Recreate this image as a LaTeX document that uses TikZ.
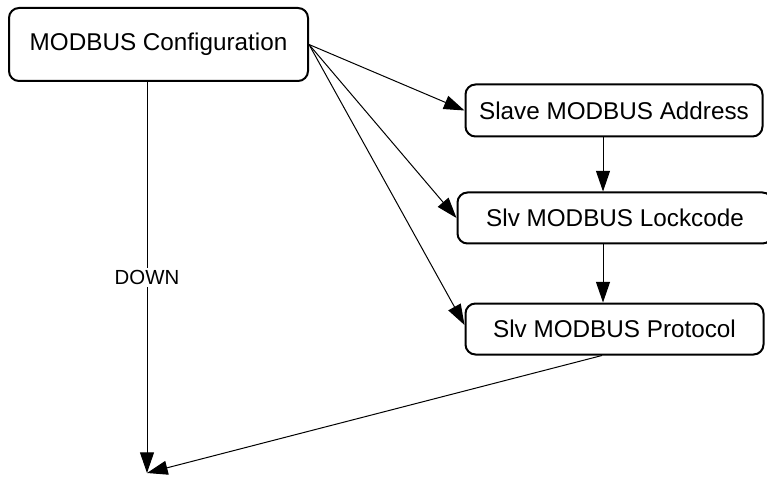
\documentclass[tikz,border=0pt]{standalone}
\usepackage{fontspec}
\setmainfont{Liberation Sans}
\usetikzlibrary{arrows.meta,calc}

\begin{document}
\begin{tikzpicture}[
  x=0.75pt, y=-0.75pt,
  font=\fontsize{18.2pt}{20pt}\selectfont,
  >={Triangle[length=15.5pt,width=10.5pt]},
  menubox/.style={
    draw=black,
    fill=white,
    rounded corners=7.5pt,
    line width=1.5pt,
    inner sep=0pt,
    align=center
  },
  link/.style={
    ->,
    line width=0.75pt,
    black
  }
]
  \useasboundingbox (0,0) rectangle (767,477);

  % --- MENU NODES ---
  \node[menubox, minimum width=224.25pt, minimum height=54.75pt] (config) at (158.5, 44.5) {MODBUS Configuration};

  \node[menubox, minimum width=222.75pt, minimum height=39pt] (addr) at (614, 110.5) {Slave MODBUS Address};

  \node[menubox, minimum width=236.25pt, minimum height=38.25pt] (lock) at (615, 218) {Slv MODBUS Lockcode};

  \node[menubox, minimum width=223.5pt, minimum height=38.25pt] (proto) at (614.5, 329) {Slv MODBUS Protocol};

  % free end of the DOWN links
  \coordinate (down) at (147, 473);

  % --- CONNECTORS ---
  \draw[link] (config.east) -- (addr.west);
  \draw[link] (config.east) -- (lock.west);
  \draw[link] (config.east) -- ($(proto.west)+(0,-4)$);

  \draw[link] ($(addr.south)+(-11,0)$) -- ($(lock.north)+(-12,0)$);
  \draw[link] ($(lock.south)+(-12,0)$) -- ($(proto.north)+(-11.5,0)$);

  \draw[link] ($(config.south)+(-11.5,0)$) -- (down)
    node[midway, fill=white, inner sep=2pt, font=\fontsize{15.3pt}{18pt}\selectfont] {DOWN};
  \draw[link] ($(proto.south)+(-12.5,0)$) -- (down);

\end{tikzpicture}
\end{document}
